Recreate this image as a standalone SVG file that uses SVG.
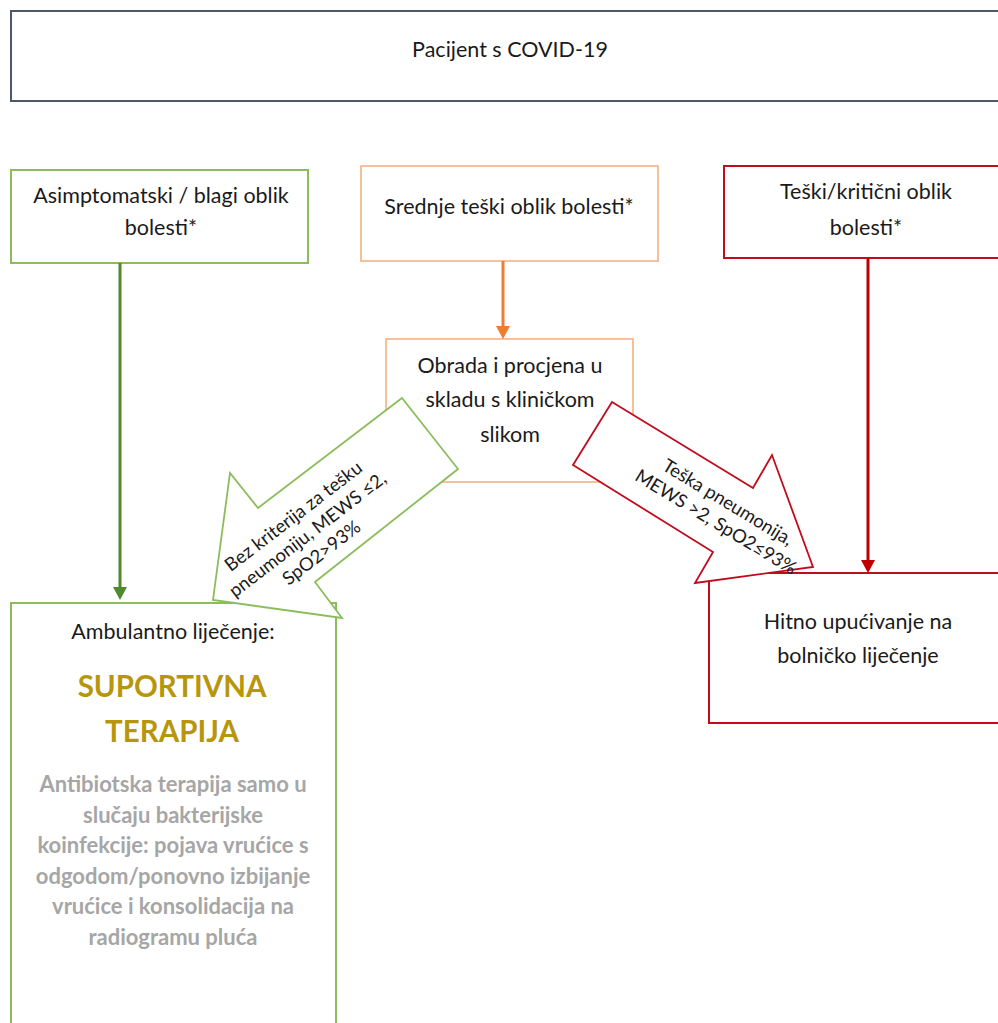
<svg xmlns="http://www.w3.org/2000/svg" width="998" height="1023" viewBox="0 0 998 1023">
<style>
.t{font-family:Lato,"Liberation Sans",sans-serif;font-size:21.5px;fill:#1a1a1a;text-anchor:middle}
.lbl{font-family:Lato,"Liberation Sans",sans-serif;font-size:18.5px;fill:#1a1a1a;text-anchor:middle;dominant-baseline:central}
.big{font-family:Lato,"Liberation Sans",sans-serif;font-size:29.5px;font-weight:bold;fill:#b8960c;text-anchor:middle}
.gray{font-family:Lato,"Liberation Sans",sans-serif;font-size:22px;font-weight:bold;fill:#a6a6a6;text-anchor:middle}
.box{fill:#fff}
.grey{stroke:#505868;stroke-width:2}
.green{stroke:#8cbd5c;stroke-width:2}
.orange{stroke:#f4b183;stroke-width:1.6}
.red{stroke:#c00d1e;stroke-width:2}
</style>
<defs>
<marker id="mg" markerUnits="userSpaceOnUse" markerWidth="14" markerHeight="14" refX="0" refY="7" orient="auto"><path d="M0,0 L13,7 L0,14 Z" fill="#4f8a2f"/></marker>
<marker id="mo" markerUnits="userSpaceOnUse" markerWidth="14" markerHeight="14" refX="0" refY="7" orient="auto"><path d="M0,0 L13,7 L0,14 Z" fill="#ed7d31"/></marker>
<marker id="mr" markerUnits="userSpaceOnUse" markerWidth="14" markerHeight="14" refX="0" refY="7" orient="auto"><path d="M0,0 L13,7 L0,14 Z" fill="#c00000"/></marker>
</defs>
<rect width="998" height="1023" fill="#fff"/>
<g id="n-patient">
<rect class="box grey" x="11" y="11" width="995" height="90"/>
<text class="t" x="510" y="57">Pacijent s COVID-19</text>
</g>
<g id="n-mild">
<rect class="box green" x="11" y="170" width="297" height="93"/>
<text class="t" x="161" y="203">Asimptomatski / blagi oblik</text>
<text class="t" x="161" y="235">bolesti*</text>
</g>
<g id="n-moderate">
<rect class="box orange" x="361" y="166" width="297" height="95"/>
<text class="t" x="509" y="214">Srednje teški oblik bolesti*</text>
</g>
<g id="n-severe">
<rect class="box red" x="724" y="166" width="290" height="92"/>
<text class="t" x="866" y="199">Teški/kritični oblik</text>
<text class="t" x="866" y="235">bolesti*</text>
</g>
<g id="n-assess">
<rect class="box orange" x="386" y="339" width="247" height="143"/>
<text class="t" x="510" y="373">Obrada i procjena u</text>
<text class="t" x="510" y="407">skladu s kliničkom</text>
<text class="t" x="510" y="442">slikom</text>
</g>
<g id="n-outpatient">
<rect class="box green" x="11" y="603" width="325" height="440"/>
<text class="t" x="173" y="639">Ambulantno liječenje:</text>
<text class="big" x="172" y="697">SUPORTIVNA</text>
<text class="big" x="172" y="742">TERAPIJA</text>
<text class="gray" x="173" y="792">Antibiotska terapija samo u</text>
<text class="gray" x="173" y="823">slučaju bakterijske</text>
<text class="gray" x="173" y="853">koinfekcije: pojava vrućice s</text>
<text class="gray" x="173" y="884">odgodom/ponovno izbijanje</text>
<text class="gray" x="173" y="914">vrućice i konsolidacija na</text>
<text class="gray" x="173" y="945">radiogramu pluća</text>
</g>
<g id="n-hospital">
<rect class="box red" x="709" y="573" width="300" height="150"/>
<text class="t" x="858" y="629">Hitno upućivanje na</text>
<text class="t" x="858" y="663">bolničko liječenje</text>
</g>
<g id="connectors" fill="none">
<line x1="120" y1="263" x2="120" y2="587" stroke="#4f8a2f" stroke-width="3" marker-end="url(#mg)"/>
<line x1="503" y1="261" x2="503" y2="326" stroke="#ed7d31" stroke-width="3" marker-end="url(#mo)"/>
<line x1="868" y1="258" x2="868" y2="560" stroke="#c00000" stroke-width="3" marker-end="url(#mr)"/>
<g id="arrow-green">
<polygon points="402,398 258,508 230,473 213,600 342,618 315,582 458,469" fill="#fff" stroke="#8cbd5c" stroke-width="1.8" stroke-linejoin="miter"/>
<g transform="translate(304,530) rotate(-37.5)">
<text class="lbl" x="0" y="-18">Bez kriterija za tešku</text>
<text class="lbl" x="0" y="5">pneumoniju, MEWS ≤2,</text>
<text class="lbl" x="0" y="28">SpO2&gt;93%</text>
</g>
</g>
<g id="arrow-red">
<polygon points="612,402 753,488 772,455 813,567 695,583 713,552 573,465" fill="#fff" stroke="#c00d1e" stroke-width="1.8" stroke-linejoin="miter"/>
<g transform="translate(722,512) rotate(31.2)">
<text class="lbl" x="0" y="-12">Teška pneumonija,</text>
<text class="lbl" x="0" y="11">MEWS &gt;2, SpO2≤93%</text>
</g>
</g>
</g>
</svg>
